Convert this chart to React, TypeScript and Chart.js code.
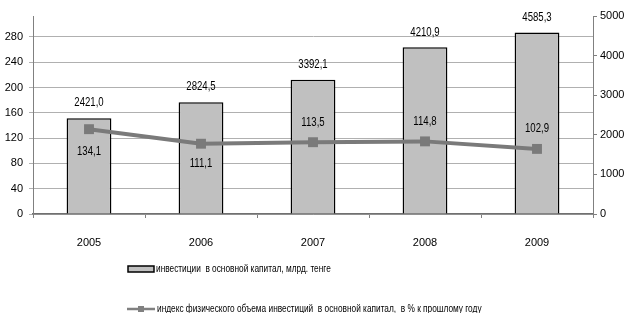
import React, { useEffect, useRef } from "react";
import { Chart, registerables } from "chart.js";

Chart.register(...registerables);

const categories = ["2005", "2006", "2007", "2008", "2009"];
const investValues = [2421.0, 2824.5, 3392.1, 4210.9, 4585.3];
const indexValues = [134.1, 111.1, 113.5, 114.8, 102.9];
const investLabel = "инвестиции  в основной капитал, млрд. тенге";
const indexLabel = "индекс физического объема инвестиций  в основной капитал,  в % к прошлому году";
const indexLabelPos = ["below", "below", "above", "above", "above"];

const FONT = "'Liberation Sans', Arial, sans-serif";
const fmt = (v: number) => v.toFixed(1).replace(".", ",");

// draw text horizontally condensed (the original uses a narrow font)
function narrowText(ctx: CanvasRenderingContext2D, text: string, x: number, y: number, sx: number) {
  ctx.save();
  ctx.translate(x, y);
  ctx.scale(sx, 1);
  ctx.fillText(text, 0, 0);
  ctx.restore();
}

const labelsPlugin = {
  id: "valueLabels",
  afterDatasetsDraw(chart: any) {
    const ctx = chart.ctx;
    ctx.save();
    ctx.font = `12px ${FONT}`;
    ctx.fillStyle = "#000";
    ctx.textAlign = "center";
    ctx.textBaseline = "middle";
    const barMeta = chart.getDatasetMeta(0);
    barMeta.data.forEach((el: any, i: number) => {
      narrowText(ctx, fmt(investValues[i]), el.x, el.y - 15, 0.8);
    });
    const lineMeta = chart.getDatasetMeta(1);
    lineMeta.data.forEach((el: any, i: number) => {
      const dy = indexLabelPos[i] === "below" ? (i === 0 ? 23 : 20) : -20;
      narrowText(ctx, fmt(indexValues[i]), el.x, el.y + dy, 0.8);
    });
    ctx.restore();
  },
  afterDraw(chart: any) {
    const ctx = chart.ctx;
    ctx.save();
    // legend row 1: bar
    ctx.fillStyle = "#c0c0c0";
    ctx.strokeStyle = "#000";
    ctx.lineWidth = 1.5;
    ctx.fillRect(128, 266, 26, 6);
    ctx.strokeRect(128, 266, 26, 6);
    ctx.font = `10px ${FONT}`;
    ctx.fillStyle = "#000";
    ctx.textAlign = "left";
    ctx.textBaseline = "middle";
    narrowText(ctx, investLabel, 156, 269, 0.83);
    // legend row 2: line
    ctx.strokeStyle = "#808080";
    ctx.lineWidth = 2.5;
    ctx.beginPath();
    ctx.moveTo(127, 309);
    ctx.lineTo(155, 309);
    ctx.stroke();
    ctx.fillStyle = "#808080";
    ctx.fillRect(138, 306, 6, 6);
    ctx.fillStyle = "#000";
    narrowText(ctx, indexLabel, 157, 309, 0.83);
    ctx.restore();
  },
};

export default function App() {
  const ref = useRef<HTMLCanvasElement>(null);
  useEffect(() => {
    if (!ref.current) return;
    const chart = new Chart(ref.current, {
      type: "bar",
      data: {
        labels: categories,
        datasets: [
          {
            type: "bar",
            label: investLabel,
            data: investValues,
            yAxisID: "y1",
            backgroundColor: "#c0c0c0",
            borderColor: "#000",
            borderWidth: 1.5,
            barPercentage: 0.4,
            categoryPercentage: 1,
            order: 2,
          },
          {
            type: "line",
            label: indexLabel,
            data: indexValues,
            yAxisID: "y",
            borderColor: "#7a7a7a",
            backgroundColor: "#7a7a7a",
            borderWidth: 4,
            pointStyle: "rect",
            pointRadius: 7,
            pointBorderWidth: 0,
            pointBackgroundColor: "#7a7a7a",
            tension: 0,
            order: 1,
          } as any,
        ],
      },
      options: {
        animation: false,
        responsive: false,
        maintainAspectRatio: false,
        layout: { padding: { top: 16, left: 0, right: 0, bottom: 0 } },
        plugins: { legend: { display: false }, tooltip: { enabled: false } },
        scales: {
          x: {
            offset: true,
            grid: { offset: true, drawOnChartArea: false, tickLength: 4, color: "#808080" },
            border: { color: "#707070", width: 1.5 },
            ticks: { font: { family: FONT, size: 11 }, color: "#000", padding: 18 },
            afterFit(scale: any) { scale.height = 99; },
          },
          y: {
            position: "left",
            min: 0,
            max: 313,
            ticks: { stepSize: 40, font: { family: FONT, size: 11 }, color: "#000", padding: 6 },
            grid: { color: "#b0b0b0", tickLength: 4, lineWidth: 1 },
            border: { color: "#808080" },
            afterBuildTicks(scale: any) {
              scale.ticks = scale.ticks.filter((t: any) => t.value % 40 === 0);
            },
            afterFit(scale: any) { scale.width = 33; },
          },
          y1: {
            position: "right",
            min: 0,
            max: 5000,
            ticks: {
              stepSize: 1000,
              font: { family: FONT, size: 11 },
              color: "#000",
              padding: 3,
              callback: (v: any) => String(v),
            },
            grid: { drawOnChartArea: false, tickLength: 4, color: "#808080" },
            border: { color: "#808080" },
            afterFit(scale: any) { scale.width = 33; },
          },
        },
      },
      plugins: [labelsPlugin],
    } as any);
    return () => chart.destroy();
  }, []);
  return (
    <div style={{ position: "fixed", left: 0, top: 0, width: 626, height: 313, background: "#fff" }}>
      <canvas ref={ref} width={626} height={313} style={{ width: 626, height: 313 }} />
    </div>
  );
}
